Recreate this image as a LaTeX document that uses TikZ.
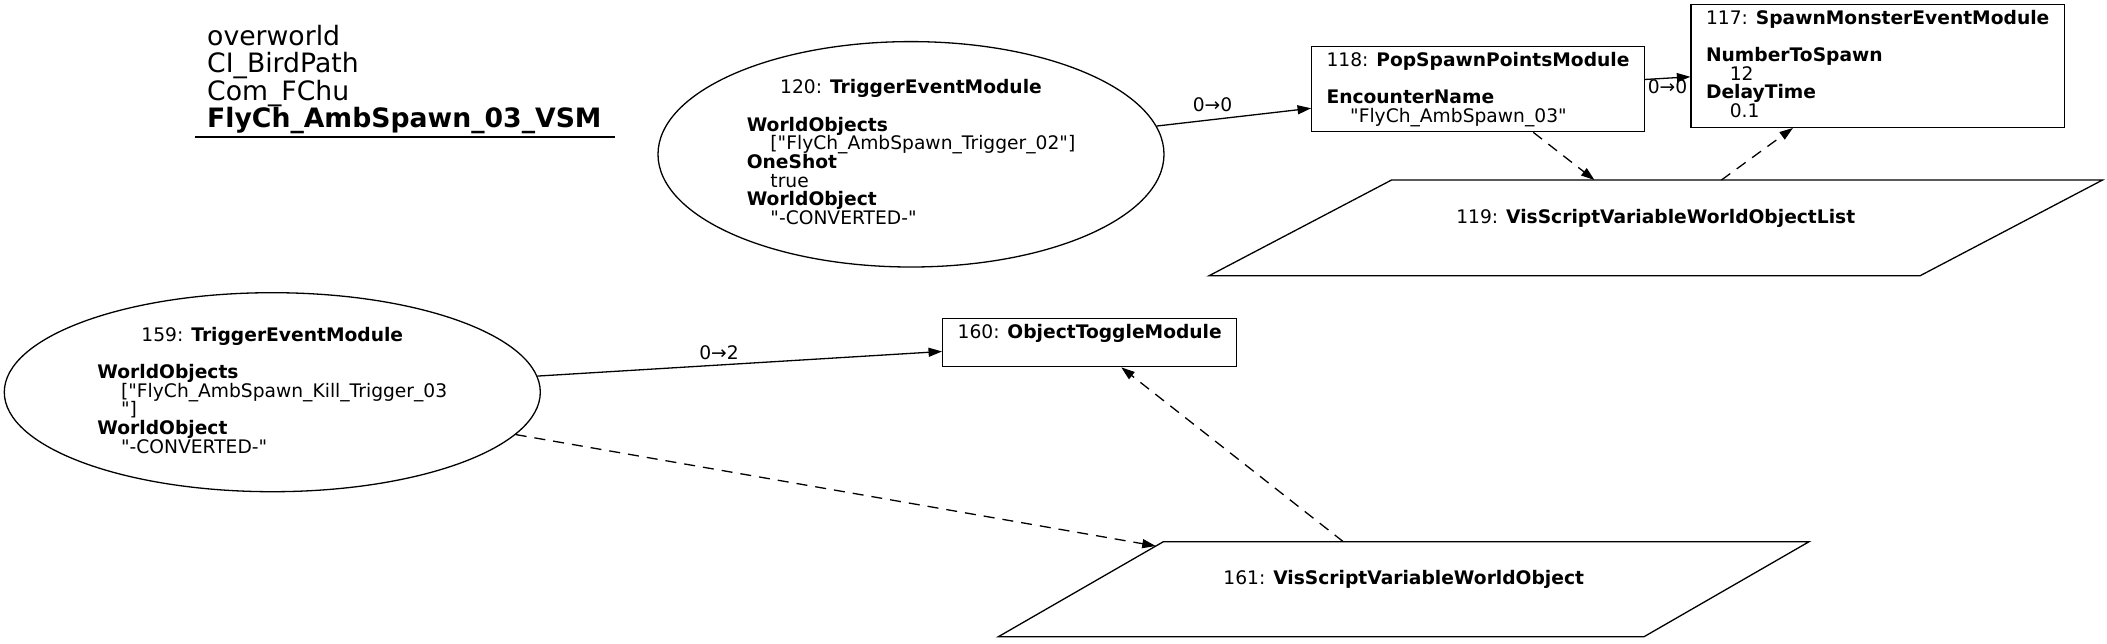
\documentclass[tikz,border=0pt]{standalone}
\usepackage{fontspec}
\newfontfamily\dv{DejaVu Sans}
\usetikzlibrary{shapes.geometric,arrows.meta}
\newcommand{\nf}{\dv\fontsize{18.67pt}{18.67pt}\selectfont}
\newcommand{\tf}{\dv\fontsize{26.67pt}{27.3pt}\selectfont}
\newcommand{\lstrut}{\vrule width 0pt height 14.2pt depth 4.47pt}
\newcommand{\blk}[1]{\vbox{\nf\baselineskip=18.67pt\lineskiplimit=-50pt\lineskip=0pt\halign{\lstrut##\hfil\cr#1\crcr}}}
\newcommand{\ttlblk}[1]{\vbox{\tf\baselineskip=27.3pt\lineskiplimit=-50pt\lineskip=0pt\halign{##\hfil\cr#1\crcr}}}
\newcommand{\hd}[2]{\hfil#1: \textbf{#2}}
\newcommand{\ind}{\hskip 23.7pt}
\tikzset{
  box/.style={draw, rectangle, line width=1.3pt, inner sep=0pt},
  ell/.style={draw, ellipse, line width=1.3pt, inner sep=0pt},
  parabody/.style={rectangle, inner sep=0pt, outer sep=0pt},
  outline/.style={line width=1.3pt, line join=miter},
  elbl/.style={font=\nf, inner sep=0pt},
  flow/.style={-{Triangle[length=13.5pt,width=9pt]}, line width=1.3pt},
  dep/.style={flow, dash pattern=on 11pt off 8pt},
}
\begin{document}
\begin{tikzpicture}[x=1pt,y=1pt]
\path[fill=white] (0,0) rectangle (2107,-643);
\useasboundingbox (0,0) rectangle (2107,-643);

% title
\node[anchor=base west, inner sep=0pt] (title) at (207,-127.5)
  {\ttlblk{overworld\cr CI\_BirdPath\cr Com\_FChu\cr \textbf{FlyCh\_AmbSpawn\_03\_VSM}}};
\draw[line width=1.3pt] (195,-137) -- (615,-137);

% nodes
\node[ell, minimum width=506pt, minimum height=225.4pt] (n120) at (911,-154.3)
  {\blk{\hd{120}{TriggerEventModule}\cr\cr\textbf{WorldObjects}\cr\ind["FlyCh\_AmbSpawn\_Trigger\_02"]\cr\textbf{OneShot}\cr\ind true\cr\textbf{WorldObject}\cr\ind"-CONVERTED-"}};

\node[ell, minimum width=536pt, minimum height=199pt] (n159) at (272.3,-392.2)
  {\blk{\hd{159}{TriggerEventModule}\cr\cr\textbf{WorldObjects}\cr\ind["FlyCh\_AmbSpawn\_Kill\_Trigger\_03\cr\ind"]\cr\textbf{WorldObject}\cr\ind"-CONVERTED-"}};

\node[box, minimum width=332.6pt, minimum height=85pt] (n118) at (1478,-89.2)
  {\blk{\hd{118}{PopSpawnPointsModule}\cr\cr\textbf{EncounterName}\cr\ind"FlyCh\_AmbSpawn\_03"}};

\node[box, minimum width=373.3pt, minimum height=122.6pt] (n117) at (1877.7,-66)
  {\blk{\hd{117}{SpawnMonsterEventModule}\cr\cr\textbf{NumberToSpawn}\cr\ind 12\cr\textbf{DelayTime}\cr\ind 0.1}};

\node[box, minimum width=294pt, minimum height=48.4pt] (n160) at (1089.7,-342.5)
  {\blk{\hd{160}{ObjectToggleModule}\cr\relax}};

% parallelograms
\node[parabody, minimum width=711pt, minimum height=95.7pt] (n119) at (1655.75,-227.9)
  {\blk{\hd{119}{VisScriptVariableWorldObjectList}\cr\relax}};
\draw[outline] ([xshift=91.2pt]n119.north west) -- ([xshift=91.2pt]n119.north east)
  -- ([xshift=-91.2pt]n119.south east) -- ([xshift=-91.2pt]n119.south west) -- cycle;

\node[parabody, minimum width=645.7pt, minimum height=95pt] (n161) at (1403.7,-589.2)
  {\blk{\hd{161}{VisScriptVariableWorldObject}\cr\relax}};
\draw[outline] ([xshift=82.5pt]n161.north west) -- ([xshift=82.5pt]n161.north east)
  -- ([xshift=-82.5pt]n161.south east) -- ([xshift=-82.5pt]n161.south west) -- cycle;
\coordinate (n161w) at ([xshift=74.9pt,yshift=-4.3pt]n161.north west);

% connectors
\draw[flow] (n120) -- (n118);
\node[elbl] (l1) at (1212.5,-105) {0→0};
\draw[flow] (n118) -- (n117);
\node[elbl] (l2) at (1667.5,-87) {0→0};
\draw[dep] (n118) -- (n119);
\draw[dep] (n119) -- (n117);
\draw[flow] (n159) -- (n160);
\node[elbl] (l3) at (719,-353) {0→2};
\draw[dep] (n159) -- (n161w);
\draw[dep] (n161) -- (n160);
\end{tikzpicture}
\end{document}
